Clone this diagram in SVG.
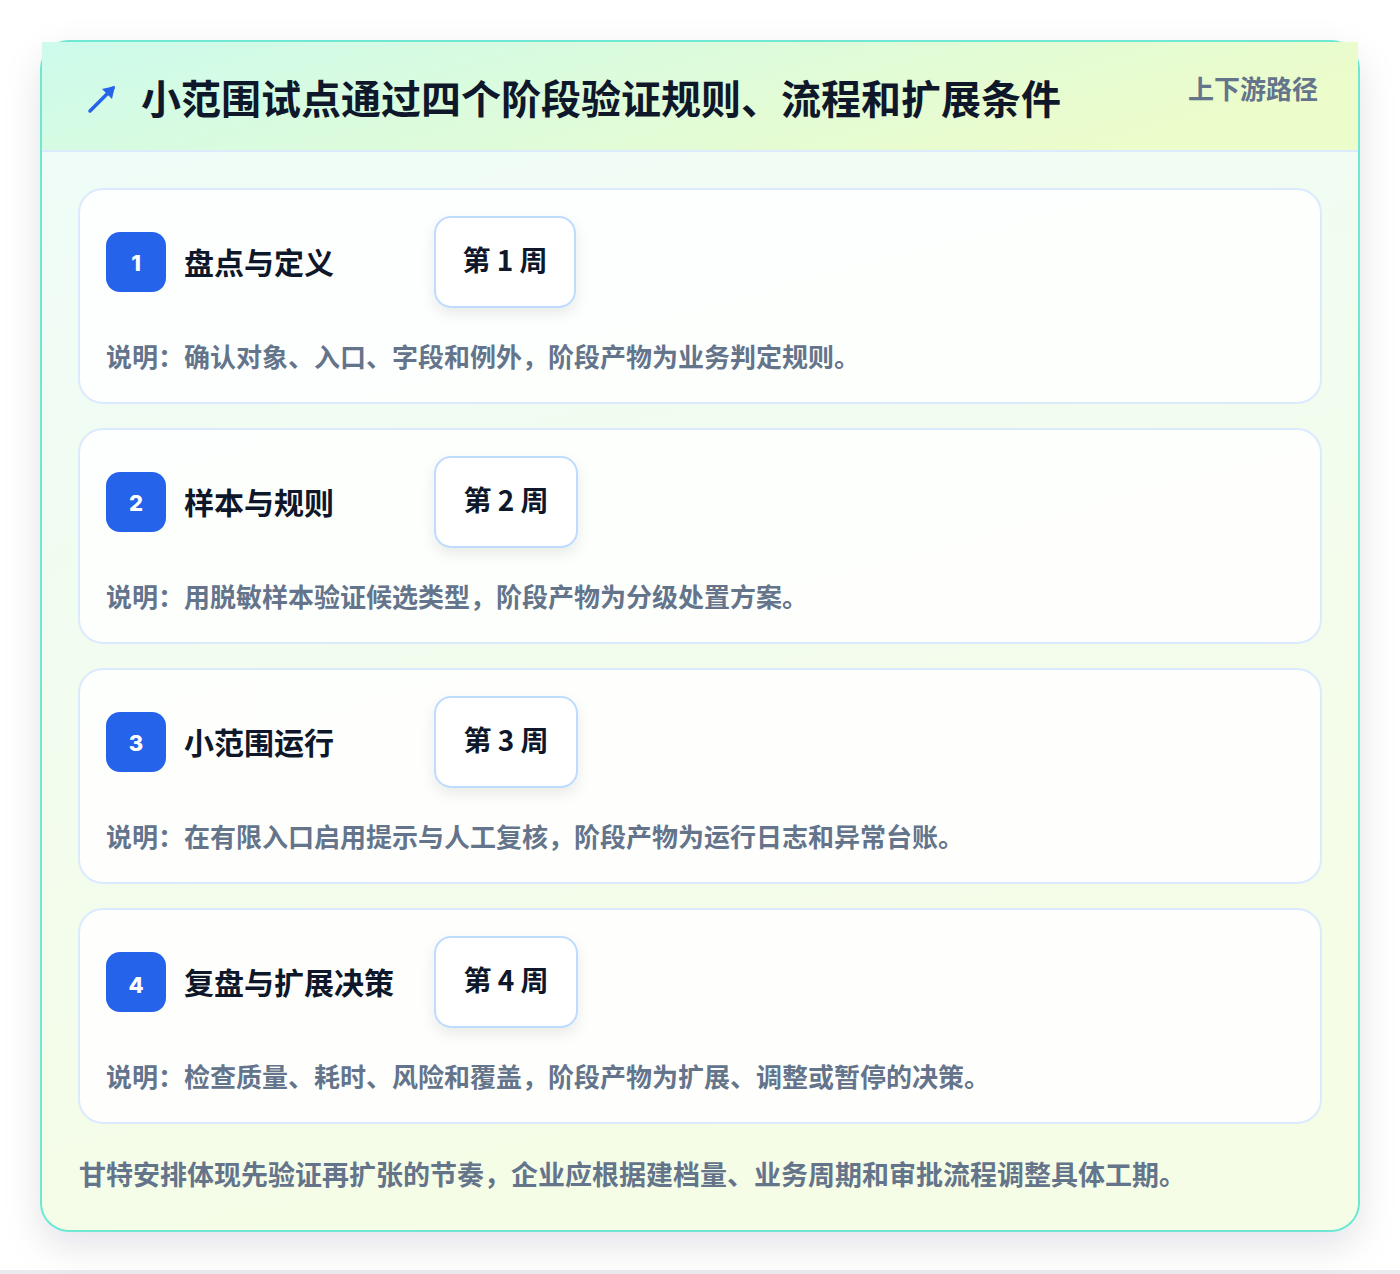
<svg xmlns="http://www.w3.org/2000/svg" width="1400" height="1274" viewBox="0 0 1400 1274">
<defs>
<style>
text{font-family:"Noto Sans CJK SC","Noto Sans",sans-serif;font-weight:700}
.title{font-size:40px;fill:#0f172a}
.tag{font-size:26px;fill:#64748b}
.stage{fill:#ffffff;fill-opacity:0.85;stroke:#dbeafe;stroke-width:2}
.badge{fill:#2563eb}
.num{font-family:Inter,"Noto Sans",sans-serif;font-weight:800;font-size:22px;fill:#ffffff;text-anchor:middle}
.stitle{font-size:30px;fill:#0f172a}
.pill{fill:#ffffff;stroke:#bfdbfe;stroke-width:2}
.week{font-size:28px;fill:#0f172a;text-anchor:middle}
.desc{font-size:26px;fill:#64748b}
.foot{font-size:27px;fill:#64748b}
</style>
<linearGradient id="cardGrad" x1="0" y1="0" x2="0.3" y2="1">
<stop offset="0" stop-color="#effcf9"/>
<stop offset="1" stop-color="#f5fde6"/>
</linearGradient>
<linearGradient id="headGrad" x1="0" y1="0" x2="1" y2="0.3">
<stop offset="0" stop-color="#cdfbec"/>
<stop offset="1" stop-color="#ecfccb"/>
</linearGradient>
<filter id="shadow" x="-10%" y="-10%" width="120%" height="120%">
<feDropShadow dx="0" dy="14" stdDeviation="18" flood-color="#0f172a" flood-opacity="0.11"/>
</filter>
<filter id="pillShadow" x="-30%" y="-30%" width="160%" height="170%">
<feDropShadow dx="0" dy="6" stdDeviation="7" flood-color="#0f172a" flood-opacity="0.08"/>
</filter>
</defs>
<rect x="0" y="0" width="1400" height="1274" fill="#ffffff"/>
<rect x="0" y="1270" width="1400" height="4" fill="#ebebef"/>
<g id="card">
<rect x="41" y="41" width="1318" height="1190" rx="28" fill="url(#cardGrad)" stroke="#6ee7d3" stroke-width="2" filter="url(#shadow)"/>
<rect x="42" y="42" width="1316" height="109" fill="url(#headGrad)"/>
<line x1="42" y1="151" x2="1358" y2="151" stroke="#dbeafe" stroke-width="2"/>
</g>
<g id="header">
<line x1="90" y1="111" x2="113" y2="88" stroke="#2563eb" stroke-width="3.5" stroke-linecap="round"/>
<polygon points="115,86 102,89 112,99" fill="#2563eb"/>
<text class="title" x="141" y="114">小范围试点通过四个阶段验证规则、流程和扩展条件</text>
<text class="tag" x="1318" y="99" text-anchor="end">上下游路径</text>
</g>
<g id="stage1">
<rect class="stage" x="79" y="189" width="1242" height="214" rx="24"/>
<rect class="badge" x="106" y="232" width="60" height="60" rx="14"/>
<text class="num" x="136" y="271">1</text>
<text class="stitle" x="184" y="274">盘点与定义</text>
<rect class="pill" x="435" y="217" width="140" height="90" rx="16" filter="url(#pillShadow)"/>
<text class="week" x="505" y="271">第 1 周</text>
<text class="desc" x="106" y="367">说明：确认对象、入口、字段和例外，阶段产物为业务判定规则。</text>
</g>
<g id="stage2">
<rect class="stage" x="79" y="429" width="1242" height="214" rx="24"/>
<rect class="badge" x="106" y="472" width="60" height="60" rx="14"/>
<text class="num" x="136" y="511">2</text>
<text class="stitle" x="184" y="514">样本与规则</text>
<rect class="pill" x="435" y="457" width="142" height="90" rx="16" filter="url(#pillShadow)"/>
<text class="week" x="506" y="511">第 2 周</text>
<text class="desc" x="106" y="607">说明：用脱敏样本验证候选类型，阶段产物为分级处置方案。</text>
</g>
<g id="stage3">
<rect class="stage" x="79" y="669" width="1242" height="214" rx="24"/>
<rect class="badge" x="106" y="712" width="60" height="60" rx="14"/>
<text class="num" x="136" y="751">3</text>
<text class="stitle" x="184" y="754">小范围运行</text>
<rect class="pill" x="435" y="697" width="142" height="90" rx="16" filter="url(#pillShadow)"/>
<text class="week" x="506" y="751">第 3 周</text>
<text class="desc" x="106" y="847">说明：在有限入口启用提示与人工复核，阶段产物为运行日志和异常台账。</text>
</g>
<g id="stage4">
<rect class="stage" x="79" y="909" width="1242" height="214" rx="24"/>
<rect class="badge" x="106" y="952" width="60" height="60" rx="14"/>
<text class="num" x="136" y="993">4</text>
<text class="stitle" x="184" y="994">复盘与扩展决策</text>
<rect class="pill" x="435" y="937" width="142" height="90" rx="16" filter="url(#pillShadow)"/>
<text class="week" x="506" y="991">第 4 周</text>
<text class="desc" x="106" y="1087">说明：检查质量、耗时、风险和覆盖，阶段产物为扩展、调整或暂停的决策。</text>
</g>
<g id="connectors"></g>
<g id="footer">
<text class="foot" x="79" y="1185">甘特安排体现先验证再扩张的节奏，企业应根据建档量、业务周期和审批流程调整具体工期。</text>
</g>
</svg>
